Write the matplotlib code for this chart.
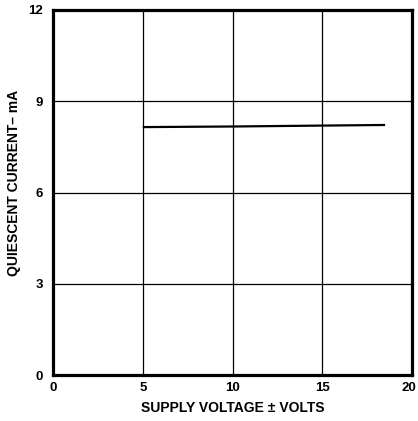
import matplotlib
matplotlib.use("Agg")
import matplotlib.pyplot as plt
import matplotlib.transforms as mtransforms

plt.rcParams['font.family'] = ['Liberation Sans', 'DejaVu Sans']

supply_voltage = [5, 10, 15, 18.5]
quiescent_current = [8.15, 8.17, 8.2, 8.22]
x_ticks = [0, 5, 10, 15, 20]
y_ticks = [0, 3, 6, 9, 12]

fig = plt.figure(figsize=(4.18, 4.21), dpi=100)
ax = fig.add_axes([53/418, 1 - 375/421, 359/418, 365/421])

ax.plot(supply_voltage, quiescent_current, color='black', lw=1.6, solid_capstyle='butt')
ax.set_xlim(0, 20)
ax.set_ylim(0, 12)
ax.set_xticks(x_ticks)
ax.set_yticks(y_ticks)
ax.grid(True, color='black', lw=0.9)
ax.set_axisbelow(True)
for s in ax.spines.values():
    s.set_linewidth(2.3)
ax.tick_params(axis='x', length=0, labelsize=9.5, pad=5)
ax.tick_params(axis='y', length=0, labelsize=9.5, pad=7)
for lab in ax.get_xticklabels() + ax.get_yticklabels():
    lab.set_fontweight('bold')
xl = ax.get_xticklabels()
xl[-1].set_transform(xl[-1].get_transform() + mtransforms.ScaledTranslation(-3/100, 0, fig.dpi_scale_trans))
ax.set_xlabel('SUPPLY VOLTAGE ± VOLTS', fontsize=10, fontweight='bold', labelpad=5)
ax.set_ylabel('QUIESCENT CURRENT– mA', fontsize=10, fontweight='bold')
ax.yaxis.set_label_coords(-0.088, 0.526)

fig.savefig('out.png', dpi=100)
